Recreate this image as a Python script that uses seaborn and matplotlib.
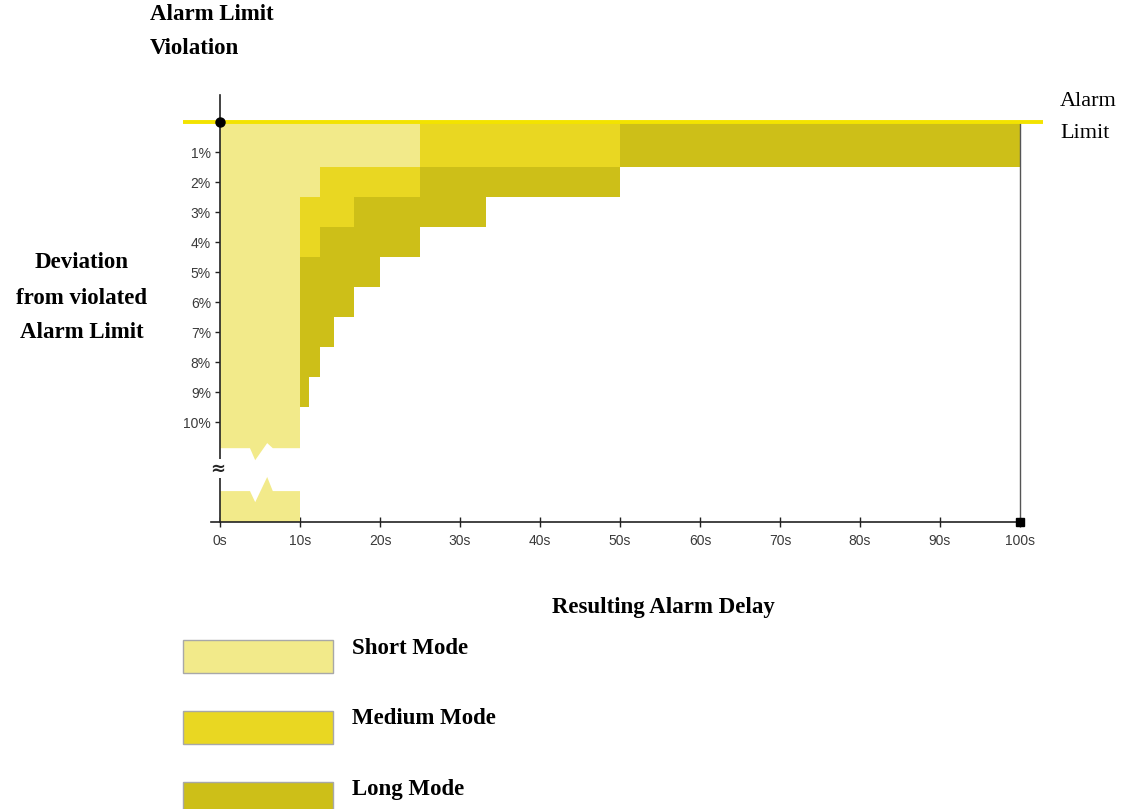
"""plot.py

Alarm delay vs deviation from the violated alarm limit, for three modes.

"""

import matplotlib
matplotlib.use("Agg")
import matplotlib.pyplot as plt
from matplotlib.patches import Rectangle
import seaborn as sns

# Deviation levels (%) and the resulting alarm delay (s) for each mode
deviation_levels = [1, 2, 3, 4, 5, 6, 7, 8, 9, 10]
short_delay = [25, 12.5, 10, 10, 10, 10, 10, 10, 10, 10]
medium_delay = [50, 25, 16.7, 12.5, 10, 10, 10, 10, 10, 10]
long_delay = [100, 50, 33.3, 25, 20, 16.7, 14.3, 12.5, 11.1, 10]

mode_names = ["Short Mode", "Medium Mode", "Long Mode"]
mode_colors = ["#f2ea8a", "#e9d722", "#cdbf18"]

x_ticks = [0, 10, 20, 30, 40, 50, 60, 70, 80, 90, 100]
x_tick_labels = ["0s", "10s", "20s", "30s", "40s", "50s",
                 "60s", "70s", "80s", "90s", "100s"]
y_tick_labels = ["1%", "2%", "3%", "4%", "5%", "6%", "7%", "8%", "9%", "10%"]

W, H = 1122, 809
SERIF = "Liberation Serif"
SANS = "Liberation Sans"

# axis break below 10% (data units)
BREAK_X = [3.75, 4.4, 5.9, 6.6]
UPPER_EDGE = [10.87, 11.27, 10.7, 10.87]
LOWER_EDGE = [12.3, 12.67, 11.83, 12.3]
Y_BOTTOM = 13.33
Y_TOP = -0.9


def fx(px):
    return px / W


def fy(py):
    return 1 - py / H


def step_outline(levels, delays):
    """Corner points of a stepped area, one row per deviation level."""
    xs, ys = [0], [0]
    for i, (lev, d) in enumerate(zip(levels, delays)):
        top = 0 if i == 0 else lev - 0.5
        bottom = lev + 0.5
        xs += [d, d]
        ys += [top, bottom]
    return xs, ys


def run():
    sns.set_theme(style="white")
    plt.rcParams["font.family"] = [SANS, "DejaVu Sans"]

    fig = plt.figure(figsize=(W / 100, H / 100), dpi=100)
    ax = fig.add_axes([fx(211.2), fy(522), (1024 - 211.2) / W, (522 - 95) / H])
    ax.set_facecolor("white")

    # long and medium mode areas (drawn back to front)
    for delays, color in [(long_delay, mode_colors[2]),
                          (medium_delay, mode_colors[1])]:
        xs, ys = step_outline(deviation_levels, delays)
        ax.fill(xs + [0], ys + [ys[-1]], color=color, lw=0, zorder=1)

    # short mode, running down to the axis break
    xs, ys = step_outline(deviation_levels, short_delay)
    xs, ys = xs[:-1], ys[:-1]
    last = short_delay[-1]
    xs += [last] + BREAK_X[::-1] + [0]
    ys += [UPPER_EDGE[0]] + UPPER_EDGE[::-1] + [UPPER_EDGE[0]]
    ax.fill(xs, ys, color=mode_colors[0], lw=0, zorder=1.2)

    # short mode below the break
    lx = [0, 0] + BREAK_X + [last, last]
    ly = [Y_BOTTOM, LOWER_EDGE[0]] + LOWER_EDGE + [LOWER_EDGE[0], Y_BOTTOM]
    ax.fill(lx, ly, color=mode_colors[0], lw=0, zorder=1.2)

    ax.set_xlim(-1.1, 100.5)
    ax.set_ylim(Y_BOTTOM, Y_TOP)

    for side in ["top", "right"]:
        ax.spines[side].set_visible(False)
    ax.spines["left"].set_position(("data", 0))
    ax.spines["bottom"].set_bounds(-1.1, 100)
    for side in ["left", "bottom"]:
        ax.spines[side].set_color("#222222")
        ax.spines[side].set_linewidth(1.2)

    ax.set_xticks(x_ticks)
    ax.set_xticklabels(x_tick_labels)
    ax.set_xticks(range(5, 100, 10), minor=True)
    ax.set_yticks(deviation_levels)
    ax.set_yticklabels(y_tick_labels)
    ax.tick_params(axis="both", which="both", direction="inout", length=7,
                   width=1, color="#222222", labelsize=10,
                   labelcolor="#3a3a3a")
    ax.tick_params(axis="x", pad=5)
    ax.tick_params(axis="y", pad=3)
    ax.tick_params(left=True, bottom=True)

    # alarm limit line, end line and markers
    ax.plot([-4.6, 102.9], [0, 0], color="#f3e300", lw=2.8,
            clip_on=False, zorder=3, solid_capstyle="butt")
    ax.plot([100, 100], [0, Y_BOTTOM], color="#555555", lw=1, zorder=2)
    ax.plot([0], [0], marker="o", ms=6.5, color="black", clip_on=False,
            zorder=4)
    ax.plot([100], [Y_BOTTOM], marker="s", ms=5.5, color="black",
            clip_on=False, zorder=4)
    ax.text(-0.35, 11.55, "\u2248", fontsize=13, fontweight="bold",
            fontfamily="DejaVu Sans", ha="center", va="center", zorder=5,
            bbox=dict(facecolor="white", edgecolor="none", pad=0.3))

    # labels
    bold = dict(fontfamily=SERIF, fontweight="bold", fontsize=16.5,
                color="black")
    fig.text(fx(150), fy(15), "Alarm Limit", ha="left", va="center", **bold)
    fig.text(fx(150), fy(48), "Violation", ha="left", va="center", **bold)
    for i, line in enumerate(["Deviation", "from violated", "Alarm Limit"]):
        fig.text(fx(82), fy(263 + 35 * i), line, ha="center", va="center",
                 **bold)
    fig.text(fx(663), fy(607), "Resulting Alarm Delay", ha="center",
             va="center", **bold)
    fig.text(fx(1060), fy(102), "Alarm", ha="left", va="center",
             fontfamily=SERIF, fontsize=16, color="black")
    fig.text(fx(1060), fy(133), "Limit", ha="left", va="center",
             fontfamily=SERIF, fontsize=16, color="black")

    # legend
    for i, (name, color) in enumerate(zip(mode_names, mode_colors)):
        top = 640 + 71 * i
        fig.add_artist(Rectangle((fx(183), fy(top + 33)), 150 / W, 33 / H,
                                 transform=fig.transFigure, facecolor=color,
                                 edgecolor="#a8a8a8", lw=1))
        fig.text(fx(352), fy(top + 8), name, ha="left", va="center", **bold)

    fig.savefig("out.png", dpi=100)


if __name__ == "__main__":
    run()
